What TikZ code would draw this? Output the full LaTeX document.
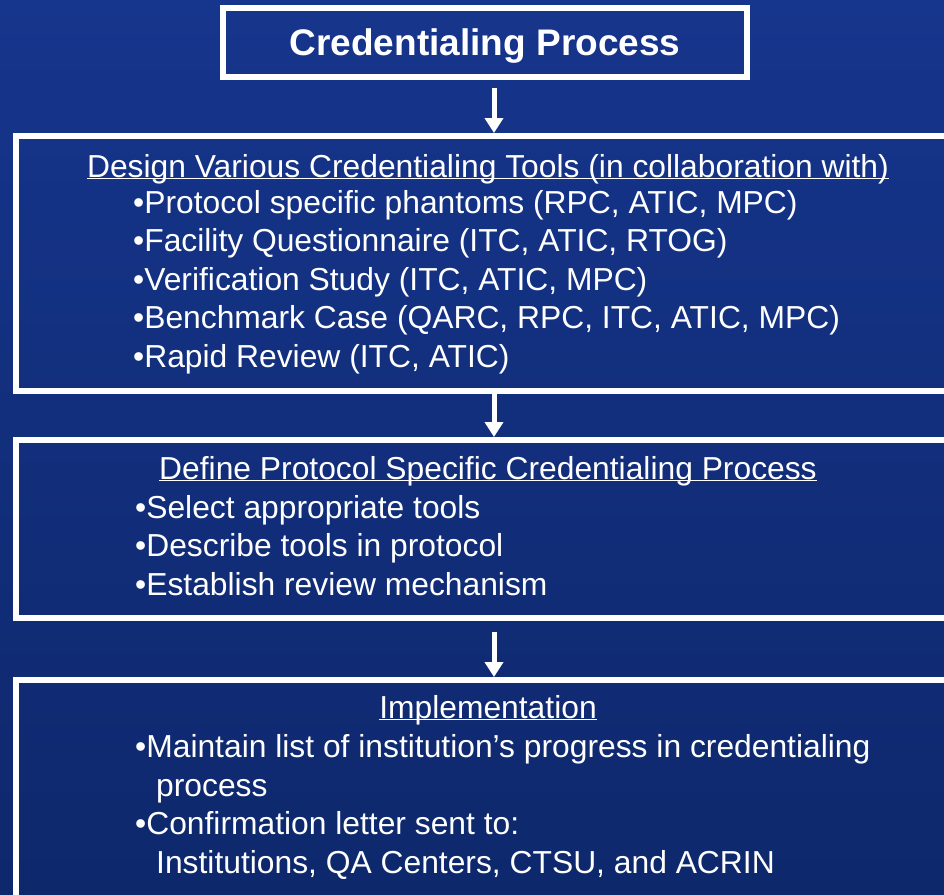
\documentclass[tikz,border=0pt]{standalone}
\usepackage{fontspec}
\setmainfont{Liberation Sans}
\usetikzlibrary{arrows.meta,positioning}

\definecolor{slidetop}{RGB}{22,53,140}
\definecolor{slidebottom}{RGB}{14,40,108}

\newcommand\bodyfont{\fontsize{31.8}{38.5}\selectfont}
\newcommand\headline[1]{\underline{\smash{#1}}}

\tikzset{
  stage/.style={draw=white, line width=6pt, anchor=north west, inner sep=0pt},
  heading/.style={text=white, font=\bodyfont, anchor=base, inner sep=0pt},
  items/.style={text=white, font=\bodyfont, anchor=base west, align=left, inner sep=0pt},
  flow/.style={draw=white, line width=5pt, -{Triangle[width=18pt,length=15pt]}}
}

\begin{document}
\begin{tikzpicture}[x=1pt,y=-1pt]
				\shade[top color=slidetop, bottom color=slidebottom] (0,0) rectangle (944,894);
				\useasboundingbox (0,0) rectangle (944,894);
				\clip (0,0) rectangle (944,894);

				% Boxes
				\node (title) [stage, minimum width=524pt, minimum height=69pt, text depth=0pt, text=white, font=\fontsize{37}{44}\selectfont\bfseries] at (220,5) {Credentialing Process};
				\node (design) [stage, minimum width=960pt, minimum height=255pt] at (13,133) {};
				\node (define) [stage, minimum width=960pt, minimum height=178pt] at (13,437) {};
				\node (impl) [stage, minimum width=960pt, minimum height=300pt] at (13,677) {};

				% Texts (lists are placed by the baseline of their last line)
				\node (designhead) [heading] at (488,177) {\headline{Design Various Credentialing Tools (in collaboration with)}};
				\node (designlist) [items] at (133,367) {•Protocol specific phantoms (RPC, ATIC, MPC)\\•Facility Questionnaire (ITC, ATIC, RTOG)\\•Verification Study (ITC, ATIC, MPC)\\•Benchmark Case (QARC, RPC, ITC, ATIC, MPC)\\•Rapid Review (ITC, ATIC)};
				\node (definehead) [heading] at (488,479) {\headline{Define Protocol Specific Credentialing Process}};
				\node (definelist) [items] at (135,595) {•Select appropriate tools\\•Describe tools in protocol\\•Establish review mechanism};
				\node (implhead) [heading] at (488,718) {\headline{Implementation}};
				\node (impllist) [items] at (135,873) {•Maintain list of institution’s progress in credentialing\\\hspace*{21pt}process\\•Confirmation letter sent to:\\\hspace*{21pt}Institutions, QA Centers, CTSU, and ACRIN};

				% Arrows
				\coordinate (spine) at (494,0);
				\draw[flow, shorten <=8pt] (title.south -| spine) -- (design.north -| spine);
				\draw[flow] (design.south -| spine) -- (define.north -| spine);
				\draw[flow, shorten <=11pt] (define.south -| spine) -- (impl.north -| spine);
			\end{tikzpicture}
\end{document}
